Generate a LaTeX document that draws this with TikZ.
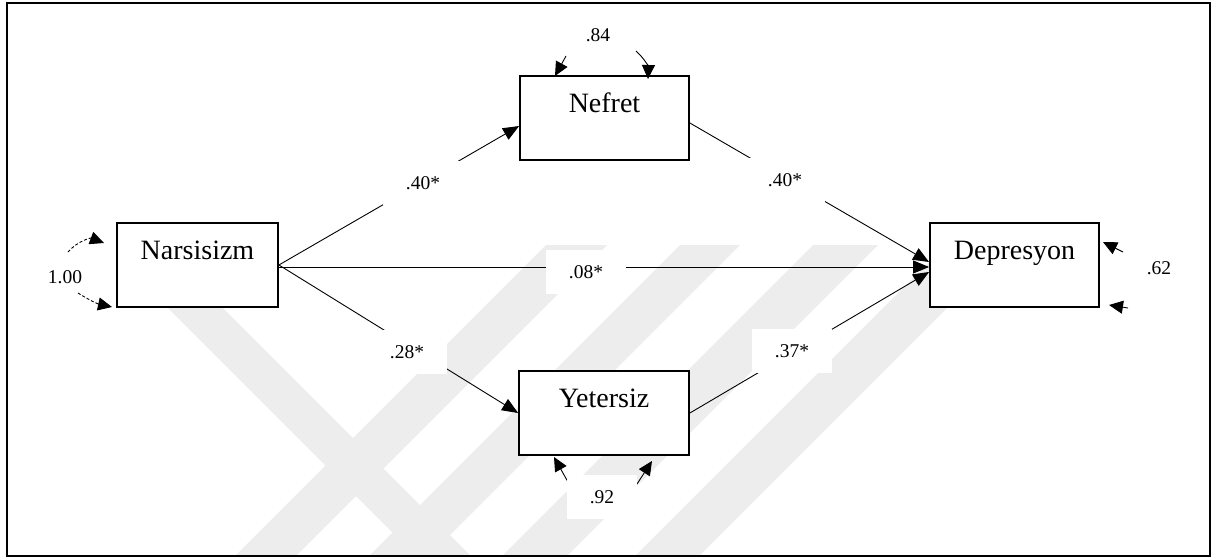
\documentclass[tikz,border=0pt]{standalone}
\usepackage{fontspec}
\setmainfont{Liberation Serif}
\usetikzlibrary{arrows.meta,calc}
\begin{document}
\begin{tikzpicture}[x=1pt,y=-1pt,
  vbox/.style={draw, line width=1.8pt, fill=white, inner sep=0pt, minimum height=84pt,
    font=\fontsize{28}{28}\selectfont, text height=18pt, text depth=30pt},
  conn/.style={line width=0.9pt, -{Triangle[length=16pt,width=13pt]}},
  res/.style={line width=0.9pt, -{Triangle[length=14pt,width=13pt]}},
  lab/.style={fill=white, inner sep=0pt, minimum width=80pt, minimum height=44pt, font=\fontsize{19.5}{19.5}\selectfont},
  num/.style={font=\fontsize{19.5}{19.5}\selectfont, inner sep=0pt},
  wm/.style={fill=black!7}
]
\useasboundingbox (0,0) rectangle (1211,557);
% watermark
\begin{scope}
  \clip (7,3) rectangle (1209,555);
  \fill[wm] (546,245) -- (607,245) -- (295,557) -- (234,557) -- cycle;
  \fill[wm] (680,245) -- (740,245) -- (428,557) -- (368,557) -- cycle;
  \fill[wm] (813,245) -- (878,245) -- (566,557) -- (501,557) -- cycle;
  \fill[wm] (946,245) -- (1010,245) -- (698,557) -- (634,557) -- cycle;
  \fill[wm] (160,300) -- (215,300) -- (472,557) -- (417,557) -- cycle;
\end{scope}
% frame
\draw[line width=2pt] (6.5,2.5) rectangle (1209.5,555.5);
% boxes
\node[vbox, minimum width=161pt] (nar) at (197.5,265) {Narsisizm};
\node[vbox, minimum width=169pt] (nef) at (604.5,118) {Nefret};
\node[vbox, minimum width=169pt] (dep) at (1014.5,265) {Depresyon};
\node[vbox, minimum width=170pt] (yet) at (604,413) {Yetersiz};
% paths
\draw[conn] (nar.east) -- ([yshift=-8pt]nef.west);
\draw[conn] ([yshift=-2pt]nar.east) -- ([yshift=-2pt]dep.west);
\draw[conn] (nar.east) -- (yet.west);
\draw[conn] ([yshift=-5pt]nef.east) -- ([yshift=3pt]dep.west);
\draw[conn] (yet.east) -- ([yshift=-7pt]dep.west);
% residual arrows
\coordinate (n1s) at (566,56); \coordinate (n1e) at (555,76);
\coordinate (n2s) at (636,51); \coordinate (n2e) at (648,79);
\draw[res] (n1s) -- (n1e);
\draw[res] (n2s) to[bend left=25] (n2e);
\coordinate (d1s) at (1123,252); \coordinate (d1e) at (1103,242);
\coordinate (d2s) at (1128,308); \coordinate (d2e) at (1109,305);
\draw[res] (d1s) -- (d1e);
\draw[res] (d2s) -- (d2e);
\coordinate (y1s) at (568,482); \coordinate (y1e) at (554,457);
\coordinate (y2s) at (637,484); \coordinate (y2e) at (652,461);
\draw[res] (y1s) -- (y1e);
\draw[res] (y2s) -- (y2e);
\coordinate (a1s) at (68,252); \coordinate (a1e) at (104,243);
\coordinate (a2s) at (78,293); \coordinate (a2e) at (112,307);
\draw[res, dash pattern=on 3pt off 2pt] (a1s) to[bend left=35] (a1e);
\draw[res, dash pattern=on 3pt off 2pt] (a2s) to[bend right=10] (a2e);
% labels
\node[lab] (l1) at (423,183) {.40*};
\node[lab] (l2) at (785,180) {.40*};
\node[lab] (l3) at (586,272) {.08*};
\node[lab] (l4) at (407,352) {.28*};
\node[lab] (l5) at (792,351) {.37*};
\node[lab, minimum width=70pt] (l6) at (602,497) {.92};
\node[num] (l7) at (598,35) {.84};
\node[num] (l8) at (1159,268) {.62};
\node[num] (l9) at (65,277) {1.00};
\end{tikzpicture}
\end{document}
